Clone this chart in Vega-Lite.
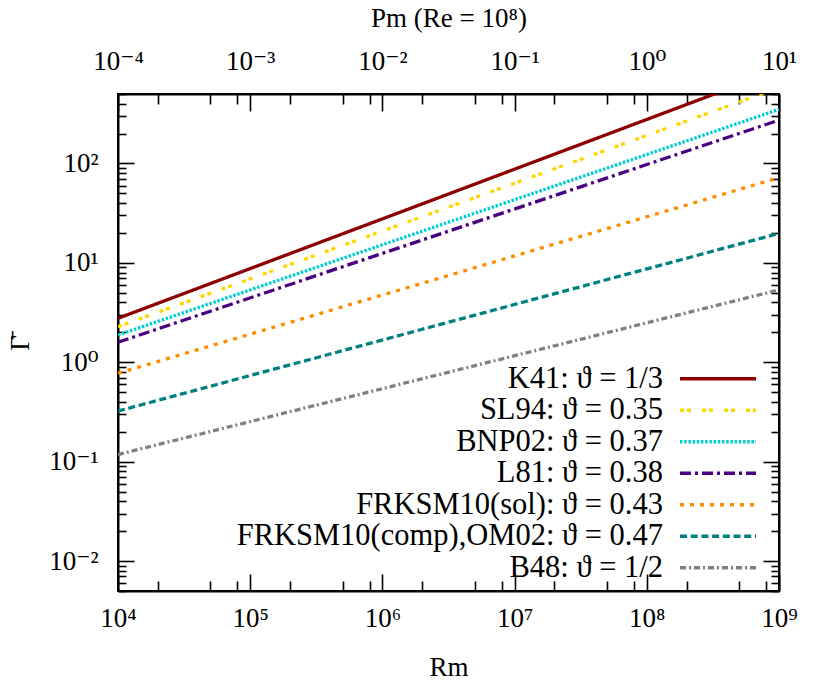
{
  "$schema": "https://vega.github.io/schema/vega-lite/v6.json",
  "autosize": {"type": "none"},
  "padding": {"left": 118, "top": 94, "right": 51, "bottom": 95},
  "width": 661,
  "height": 497,
  "background": "white",
  "config": {
    "font": "Liberation Serif, DejaVu Serif, serif",
    "view": {"stroke": "black", "strokeWidth": 2},
    "axis": {
      "grid": false,
      "domainColor": "black",
      "domainWidth": 2,
      "tickColor": "black",
      "tickWidth": 1.6,
      "labelFont": "Liberation Serif, DejaVu Serif, serif",
      "labelFontSize": 27,
      "labelColor": "black",
      "labelFlush": false,
      "labelOverlap": false,
      "titleFont": "Liberation Serif, DejaVu Serif, serif",
      "titleFontSize": 27,
      "titleFontWeight": "normal",
      "titleColor": "black"
    },
    "legend": {
      "labelFont": "Liberation Serif, DejaVu Serif, serif"
    }
  },
  "data": {
    "values": [
      {"label": "K41: ϑ = 1/3", "Rm": 10000, "Pm": 0.0001, "G": 2.77},
      {"label": "K41: ϑ = 1/3", "Rm": 1000000000, "Pm": 10, "G": 877},
      {"label": "SL94: ϑ = 0.35", "Rm": 10000, "Pm": 0.0001, "G": 2.28},
      {"label": "SL94: ϑ = 0.35", "Rm": 1000000000, "Pm": 10, "G": 580},
      {"label": "BNP02: ϑ = 0.37", "Rm": 10000, "Pm": 0.0001, "G": 1.88},
      {"label": "BNP02: ϑ = 0.37", "Rm": 1000000000, "Pm": 10, "G": 350},
      {"label": "L81: ϑ = 0.38", "Rm": 10000, "Pm": 0.0001, "G": 1.59},
      {"label": "L81: ϑ = 0.38", "Rm": 1000000000, "Pm": 10, "G": 273},
      {"label": "FRKSM10(sol): ϑ = 0.43", "Rm": 10000, "Pm": 0.0001, "G": 0.775},
      {"label": "FRKSM10(sol): ϑ = 0.43", "Rm": 1000000000, "Pm": 10, "G": 72},
      {"label": "FRKSM10(comp),OM02: ϑ = 0.47", "Rm": 10000, "Pm": 0.0001, "G": 0.323},
      {"label": "FRKSM10(comp),OM02: ϑ = 0.47", "Rm": 1000000000, "Pm": 10, "G": 19.8},
      {"label": "B48: ϑ = 1/2", "Rm": 10000, "Pm": 0.0001, "G": 0.118},
      {"label": "B48: ϑ = 1/2", "Rm": 1000000000, "Pm": 10, "G": 5.35}
    ]
  },
  "layer": [
    {
      "mark": {"type": "line", "strokeWidth": 3.3, "clip": true, "strokeCap": "butt"},
      "encoding": {
        "x": {
          "field": "Rm", "type": "quantitative",
          "scale": {"type": "log", "domain": [10000, 1000000000], "nice": false},
          "axis": {
            "orient": "bottom",
            "title": "Rm",
            "values": [10000, 20000, 50000, 80000, 100000, 200000, 500000, 800000, 1000000, 2000000, 5000000, 8000000, 10000000, 20000000, 50000000, 80000000, 100000000, 200000000, 500000000, 800000000, 1000000000],
            "tickSize": {"condition": {"test": "abs(log(datum.value)/LN10 - round(log(datum.value)/LN10)) < 0.001", "value": -17}, "value": -10},
            "labelExpr": "abs(log(datum.value)/LN10 - round(log(datum.value)/LN10)) < 0.001 ? '10' + ['⁰','¹','²','³','⁴','⁵','⁶','⁷','⁸','⁹'][round(log(datum.value)/LN10)] : ''",
            "labelPadding": 31,
            "titlePadding": 16
          }
        },
        "y": {
          "field": "G", "type": "quantitative",
          "scale": {"type": "log", "domain": [0.005, 500], "nice": false},
          "axis": {
            "orient": "left",
            "title": "Γ̄",
            "values": [0.005, 0.006, 0.007, 0.008, 0.009, 0.01, 0.02, 0.03, 0.04, 0.05, 0.06, 0.07, 0.08, 0.09, 0.1, 0.2, 0.3, 0.4, 0.5, 0.6, 0.7, 0.8, 0.9, 1, 2, 3, 4, 5, 6, 7, 8, 9, 10, 20, 30, 40, 50, 60, 70, 80, 90, 100, 200, 300, 400, 500],
            "tickSize": {"condition": {"test": "abs(log(datum.value)/LN10 - round(log(datum.value)/LN10)) < 0.001", "value": -16}, "value": -8},
            "labelExpr": "abs(log(datum.value)/LN10 - round(log(datum.value)/LN10)) < 0.001 ? '10' + (round(log(datum.value)/LN10) < 0 ? '⁻' : '') + ['⁰','¹','²','³','⁴','⁵','⁶','⁷','⁸','⁹'][abs(round(log(datum.value)/LN10))] : ''",
            "labelPadding": 36,
            "titlePadding": 14
          }
        },
        "color": {
          "field": "label", "type": "nominal",
          "scale": {
            "domain": ["K41: ϑ = 1/3", "SL94: ϑ = 0.35", "BNP02: ϑ = 0.37", "L81: ϑ = 0.38", "FRKSM10(sol): ϑ = 0.43", "FRKSM10(comp),OM02: ϑ = 0.47", "B48: ϑ = 1/2"],
            "range": ["#8B0000", "#FFD700", "#00CED1", "#4B0082", "#FF8C00", "#008080", "#808080"]
          },
          "legend": {
            "orient": "none", "legendX": 562, "legendY": 269.5,
            "title": null, "padding": 0,
            "labelAlign": "right", "labelOffset": -70.25, "labelLimit": 600,
            "labelFont": "Liberation Serif, DejaVu Serif, serif", "labelFontSize": 30.5, "labelColor": "black",
            "symbolType": "M-4,0H4", "symbolSize": 361, "symbolStrokeWidth": 3.3, "symbolOffset": 22.75,
            "symbolFillColor": "transparent",
            "rowPadding": 0.5
          }
        },
        "strokeDash": {
          "field": "label", "type": "nominal",
          "scale": {
            "domain": ["K41: ϑ = 1/3", "SL94: ϑ = 0.35", "BNP02: ϑ = 0.37", "L81: ϑ = 0.38", "FRKSM10(sol): ϑ = 0.43", "FRKSM10(comp),OM02: ϑ = 0.47", "B48: ϑ = 1/2"],
            "range": [[1, 0], [4, 3, 4, 11], [2.5, 1.7], [11, 4, 3, 4], [4, 6], [7, 3.7], [6, 3, 2, 3]]
          },
          "legend": {
            "orient": "none", "legendX": 562, "legendY": 269.5,
            "title": null, "padding": 0,
            "labelAlign": "right", "labelOffset": -70.25, "labelLimit": 600,
            "labelFont": "Liberation Serif, DejaVu Serif, serif", "labelFontSize": 30.5, "labelColor": "black",
            "symbolType": "M-4,0H4", "symbolSize": 361, "symbolStrokeWidth": 3.3, "symbolOffset": 22.75,
            "symbolFillColor": "transparent",
            "rowPadding": 0.5
          }
        }
      }
    },
    {
      "mark": {"type": "line", "strokeOpacity": 0, "clip": true},
      "encoding": {
        "x": {
          "field": "Pm", "type": "quantitative",
          "scale": {"type": "log", "domain": [0.0001, 10], "nice": false},
          "axis": {
            "orient": "top",
            "title": "Pm (Re = 10⁸)",
            "values": [0.0001, 0.0002, 0.0005, 0.0008, 0.001, 0.002, 0.005, 0.008, 0.01, 0.02, 0.05, 0.08, 0.1, 0.2, 0.5, 0.8, 1, 2, 5, 8, 10],
            "tickSize": {"condition": {"test": "abs(log(datum.value)/LN10 - round(log(datum.value)/LN10)) < 0.001", "value": -17}, "value": -10},
            "labelExpr": "abs(log(datum.value)/LN10 - round(log(datum.value)/LN10)) < 0.001 ? '10' + (round(log(datum.value)/LN10) < 0 ? '⁻' : '') + ['⁰','¹','²','³','⁴','⁵','⁶','⁷','⁸','⁹'][abs(round(log(datum.value)/LN10))] : ''",
            "labelPadding": 36,
            "titlePadding": 8
          }
        },
        "y": {
          "field": "G", "type": "quantitative",
          "scale": {"type": "log", "domain": [0.005, 500], "nice": false},
          "axis": {
            "orient": "right",
            "title": null,
            "labels": false,
            "values": [0.005, 0.006, 0.007, 0.008, 0.009, 0.01, 0.02, 0.03, 0.04, 0.05, 0.06, 0.07, 0.08, 0.09, 0.1, 0.2, 0.3, 0.4, 0.5, 0.6, 0.7, 0.8, 0.9, 1, 2, 3, 4, 5, 6, 7, 8, 9, 10, 20, 30, 40, 50, 60, 70, 80, 90, 100, 200, 300, 400, 500],
            "tickSize": {"condition": {"test": "abs(log(datum.value)/LN10 - round(log(datum.value)/LN10)) < 0.001", "value": -16}, "value": -8}
          }
        },
        "detail": {"field": "label", "type": "nominal"}
      }
    }
  ],
  "resolve": {
    "scale": {"x": "independent", "y": "independent"},
    "axis": {"x": "independent", "y": "independent"}
  }
}
